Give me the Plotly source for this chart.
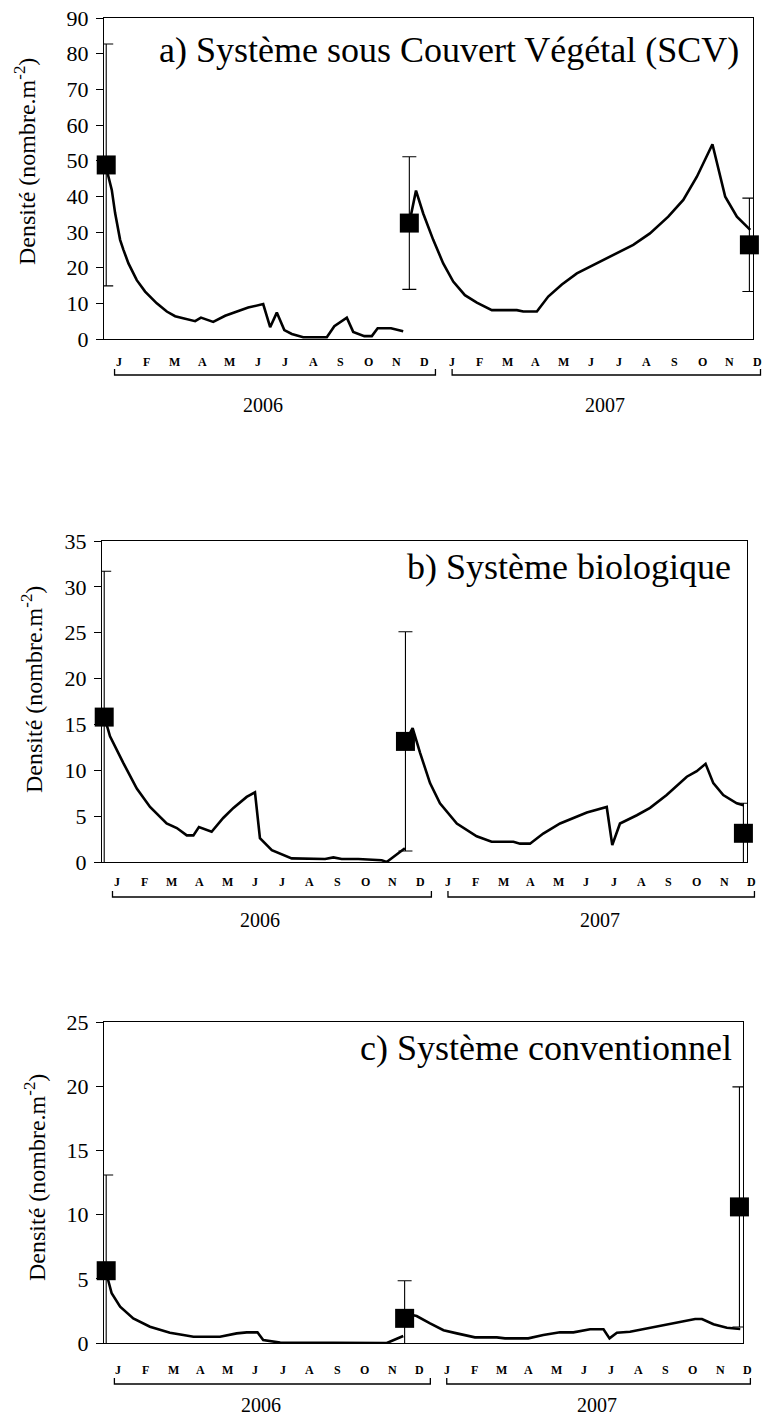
import plotly.graph_objects as go

W, H = 763, 1418
FONT = "Liberation Serif"

months = ["J", "F", "M", "A", "M", "J", "J", "A", "S", "O", "N", "D"] * 2
years = ["2006", "2007"]
titles = ["a) Système sous Couvert Végétal (SCV)", "b) Système biologique", "c) Système conventionnel"]
ytitle = "Densité (nombre.m<sup>-2</sup>)"

# ---- panel a: SCV ----
a_x1 = [0.05, 0.25, 0.37, 0.55, 0.67, 0.85, 1.15, 1.45, 1.87, 2.23, 2.53, 2.89, 3.25, 3.46, 3.90, 4.33, 4.80, 5.16,
        5.70, 5.95, 6.19, 6.46, 6.73, 7.14, 7.99, 8.26, 8.71, 8.94, 9.34, 9.61, 9.82, 10.30, 10.74]
a_y1 = [48, 41.8, 35.3, 27.8, 25.0, 21.2, 16.5, 13.3, 10.0, 7.7, 6.4, 5.6, 5.0, 6.0, 4.8, 6.5, 7.7, 8.8,
        9.8, 3.3, 7.4, 2.5, 1.4, 0.5, 0.5, 3.6, 6.0, 2.0, 0.8, 0.8, 3.0, 3.0, 2.2]
a_x2 = [10.96, 11.2, 11.46, 11.82, 12.18, 12.54, 12.96, 13.39, 13.93, 14.83, 15.06, 15.55, 15.96, 16.45, 16.99,
        17.58, 18.43, 19.02, 19.62, 20.28, 20.82, 21.31, 21.87, 22.15, 22.33, 22.75, 23.23]
a_y2 = [32.5, 41.6, 35.2, 27.8, 21.2, 16.1, 12.3, 10.2, 8.1, 8.1, 7.7, 7.7, 11.9, 15.3, 18.4,
        20.7, 24.0, 26.4, 29.6, 34.3, 39.0, 45.5, 54.6, 45.5, 39.9, 34.3, 30.6]
a_mx = [0.05, 10.96, 23.2]
a_my = [48.8, 32.5, 26.4]
a_ep = [33.9, 18.6, 13.1]
a_em = [33.9, 18.6, 13.1]

# ---- panel b: biologique ----
b_x1 = [0.05, 0.26, 0.74, 1.23, 1.71, 2.31, 2.68, 3.04, 3.28, 3.48, 3.94, 4.36, 4.73, 5.21, 5.51, 5.69, 6.12,
        6.84, 8.05, 8.35, 8.65, 9.25, 10.1, 10.28, 10.94]
b_y1 = [15.9, 13.7, 10.8, 8.0, 6.0, 4.2, 3.7, 2.9, 2.9, 3.8, 3.3, 4.8, 5.9, 7.1, 7.6, 2.6, 1.3,
        0.4, 0.33, 0.5, 0.33, 0.33, 0.2, 0.0, 1.5]
b_x2 = [10.98, 11.22, 11.49, 11.85, 12.21, 12.82, 13.54, 14.08, 14.87, 15.11, 15.47, 15.95, 16.56, 17.04, 17.53,
        18.25, 18.45, 18.73, 19.34, 19.82, 20.42, 21.15, 21.51, 21.83, 22.11, 22.47, 22.96, 23.2]
b_y2 = [13.2, 14.6, 11.9, 8.6, 6.4, 4.2, 2.8, 2.2, 2.2, 2.0, 2.0, 3.1, 4.2, 4.8, 5.4,
        6.0, 1.85, 4.2, 5.1, 5.9, 7.3, 9.3, 9.9, 10.7, 8.6, 7.3, 6.4, 6.2]
b_mx = [0.05, 10.96, 23.2]
b_my = [15.8, 13.15, 3.13]
b_ep = [15.9, 11.95, 3.27]
b_em = [15.9, 11.95, 3.27]

# ---- panel c: conventionnel ----
c_x1 = [0.04, 0.25, 0.56, 1.04, 1.65, 2.38, 2.87, 3.24, 4.21, 4.46, 4.82, 5.19, 5.58, 5.79, 6.41, 10.31, 10.91]
c_y1 = [5.55, 3.87, 2.83, 1.92, 1.27, 0.8, 0.62, 0.49, 0.49, 0.62, 0.75, 0.83, 0.83, 0.23, 0.03, 0.0, 0.55]
c_x2 = [10.98, 11.4, 11.89, 12.38, 12.87, 13.53, 14.33, 14.63, 15.48, 16.03, 16.64, 17.13, 17.74, 18.23, 18.45,
        18.72, 19.2, 19.69, 20.3, 21.03, 21.58, 21.83, 22.25, 22.74, 23.23]
c_y2 = [2.3, 2.1, 1.53, 1.0, 0.75, 0.44, 0.44, 0.36, 0.36, 0.62, 0.83, 0.83, 1.07, 1.07, 0.36,
        0.8, 0.88, 1.09, 1.35, 1.66, 1.87, 1.87, 1.46, 1.19, 1.09]
c_mx = [0.05, 10.96, 23.2]
c_my = [5.63, 1.92, 10.6]
c_ep = [7.45, 2.93, 9.35]
c_em = [6.4, 2.7, 9.35]

panels = [
    dict(x1=a_x1, y1=a_y1, x2=a_x2, y2=a_y2, mx=a_mx, my=a_my, ep=a_ep, em=a_em,
         yr=[0, 90], dt=10, px=(104, 753), py=(18, 339), title_px=(741, 50), yt_px=(25, 162),
         mon_y=362, br_y=375, yr_y=405),
    dict(x1=b_x1, y1=b_y1, x2=b_x2, y2=b_y2, mx=b_mx, my=b_my, ep=b_ep, em=b_em,
         yr=[0, 35], dt=5, px=(102, 747), py=(541, 862), title_px=(733, 567), yt_px=(32, 690),
         mon_y=882, br_y=897, yr_y=920),
    dict(x1=c_x1, y1=c_y1, x2=c_x2, y2=c_y2, mx=c_mx, my=c_my, ep=c_ep, em=c_em,
         yr=[0, 25], dt=5, px=(104, 743), py=(1022, 1343), title_px=(734, 1048), yt_px=(35, 1178),
         mon_y=1370, br_y=1384, yr_y=1405),
]

XR = [-0.03, 23.33]


def fx(p):
    return p / W


def fy(p):
    return 1 - p / H


fig = go.Figure()
annotations = []
shapes = []

for i, p in enumerate(panels):
    n = "" if i == 0 else str(i + 1)
    xa, ya = "x" + n, "y" + n
    dom_x = [fx(p["px"][0]), fx(p["px"][1])]
    dom_y = [fy(p["py"][1]), fy(p["py"][0])]

    def xpaper(m, dom_x=dom_x):
        return dom_x[0] + (m - XR[0]) / (XR[1] - XR[0]) * (dom_x[1] - dom_x[0])

    line = dict(color="black", width=2.6)
    fig.add_trace(go.Scatter(x=p["x1"], y=p["y1"], mode="lines", line=line, xaxis=xa, yaxis=ya,
                             showlegend=False, cliponaxis=False))
    fig.add_trace(go.Scatter(x=p["x2"], y=p["y2"], mode="lines", line=line, xaxis=xa, yaxis=ya,
                             showlegend=False, cliponaxis=False))
    fig.add_trace(go.Scatter(x=p["mx"], y=p["my"], mode="markers", xaxis=xa, yaxis=ya, showlegend=False,
                             cliponaxis=False,
                             marker=dict(symbol="square", size=19, color="black"),
                             error_y=dict(type="data", symmetric=False, array=p["ep"], arrayminus=p["em"],
                                          color="black", thickness=1.1, width=7)))

    fig.update_layout(**{
        "xaxis" + n: dict(domain=dom_x, range=XR, showticklabels=False, ticks="", showgrid=False,
                          zeroline=False, showline=True, mirror=True, linecolor="black", linewidth=1,
                          anchor=ya, fixedrange=True),
        "yaxis" + n: dict(domain=dom_y, range=p["yr"], dtick=p["dt"], tick0=0, ticks="outside", ticklen=7,
                          tickwidth=1, tickcolor="black", showgrid=False, zeroline=False, showline=True,
                          mirror=True, linecolor="black", linewidth=1, anchor=xa,
                          tickfont=dict(family=FONT, size=22, color="black"), ticklabelstandoff=3),
    })

    # panel title
    annotations.append(dict(x=fx(p["title_px"][0]), y=fy(p["title_px"][1]), xref="paper", yref="paper",
                            text=titles[i], showarrow=False, xanchor="right", yanchor="middle",
                            font=dict(family=FONT, size=36, color="black")))
    # y title
    annotations.append(dict(x=fx(p["yt_px"][0]), y=fy(p["yt_px"][1]), xref="paper", yref="paper",
                            text=ytitle, showarrow=False, textangle=-90, xanchor="center", yanchor="middle",
                            font=dict(family=FONT, size=24, color="black")))
    # month labels
    for k, mname in enumerate(months):
        annotations.append(dict(x=xpaper(k + 0.5), y=fy(p["mon_y"]), xref="paper", yref="paper",
                                text="<b>%s</b>" % mname, showarrow=False, xanchor="center",
                                yanchor="middle", font=dict(family=FONT, size=12, color="black")))
    # year brackets
    for (m0, m1), yname, mc in zip([(0.35, 11.9), (12.5, 23.6)], years, [5.7, 18.0]):
        x0, x1 = xpaper(m0), xpaper(m1)
        yb = fy(p["br_y"])
        yt = fy(p["br_y"] - 6)
        shapes.append(dict(type="path", xref="paper", yref="paper",
                           path="M %f %f L %f %f L %f %f L %f %f" % (x0, yt, x0, yb, x1, yb, x1, yt),
                           line=dict(color="black", width=1.3)))
        annotations.append(dict(x=xpaper(mc), y=fy(p["yr_y"]), xref="paper", yref="paper", text=yname,
                                showarrow=False, xanchor="center", yanchor="middle",
                                font=dict(family=FONT, size=20, color="black")))

fig.update_layout(width=W, height=H, margin=dict(l=0, r=0, t=0, b=0, autoexpand=False),
                  paper_bgcolor="white", plot_bgcolor="white", annotations=annotations, shapes=shapes,
                  showlegend=False)

fig.write_html("out.html", config={"displayModeBar": False},
               post_script="document.body.style.margin='0';document.body.style.overflow='hidden';")
